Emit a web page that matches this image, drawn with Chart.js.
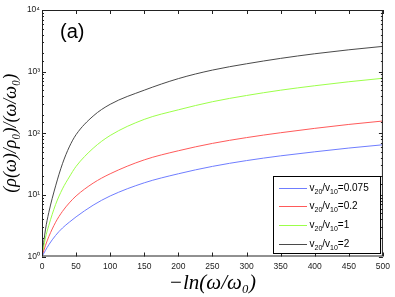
<!DOCTYPE html>
<html>
<head>
<meta charset="utf-8">
<script src="https://cdn.jsdelivr.net/npm/chart.js@4"></script>
<style>
body { margin: 0; background: #fff; }
#wrap { width: 395px; height: 297px; }
</style>
</head>
<body>
<div id="wrap"><canvas id="rhoChart"></canvas></div>
<script>
// -ln(w/w0) sample positions and curves
var xValues = [0, 5, 10, 20, 30, 40, 50, 75, 100, 150, 200, 250, 300, 350, 400, 450, 500];
var blueValues  = [1, 1.25, 1.55, 2.2, 2.9, 3.6, 4.4, 6.8, 9.6, 15.7, 22, 29, 36, 43, 50, 57.5, 65];
var redValues   = [1, 1.5, 2.1, 3.6, 5.4, 7.4, 9.6, 15.5, 22, 37, 52, 68.5, 85, 102, 120, 139, 158];
var greenValues = [1, 2.0, 3.2, 7.0, 12.5, 19.5, 29, 57, 92, 168, 240, 325, 410, 500, 590, 685, 780];
var blackValues = [1, 2.7, 5.2, 14, 32, 60, 95, 190, 295, 500, 770, 1060, 1340, 1640, 1950, 2260, 2570];
var ratioLabels = ["0.075", "0.2", "1", "2"];
var lineColors = ["#6f7dff", "#ff5a5a", "#9cff4a", "#4a4a4a"];
var yTicks = [1, 10, 100, 1000, 10000];

var sup = { 0: "\u2070", 1: "\u00b9", 2: "\u00b2", 3: "\u00b3", 4: "\u2074" };

function pts(ys) {
    return xValues.map(function (x, i) { return { x: x, y: ys[i] }; });
}

var series = [blueValues, redValues, greenValues, blackValues];
var datasets = series.map(function (ys, i) {
    return {
        label: ratioLabels[i],
        data: pts(ys),
        borderColor: lineColors[i],
        borderWidth: 1,
        pointRadius: 0,
        cubicInterpolationMode: "monotone",
        fill: false
    };
});

function isPow10(v) {
    var l = Math.log10(v);
    return Math.abs(l - Math.round(l)) < 1e-9;
}

// box, inward ticks, "(a)" and the legend
var decor = {
    id: "decor",
    afterDraw: function (chart) {
        var ctx = chart.ctx, a = chart.chartArea;
        var xs = chart.scales.x, ys = chart.scales.y;
        ctx.save();
        ctx.strokeStyle = "#222";
        ctx.lineWidth = 1;
        ctx.strokeRect(a.left + 0.5, a.top + 0.5, a.right - a.left - 1, a.bottom - a.top - 1);

        ctx.beginPath();
        xs.ticks.forEach(function (t) {
            var px = Math.round(xs.getPixelForValue(t.value)) + 0.5;
            ctx.moveTo(px, a.bottom); ctx.lineTo(px, a.bottom - 4);
            ctx.moveTo(px, a.top); ctx.lineTo(px, a.top + 4);
        });
        ys.ticks.forEach(function (t) {
            var py = Math.round(ys.getPixelForValue(t.value)) + 0.5;
            var len = isPow10(t.value) ? 4 : 2;
            ctx.moveTo(a.left, py); ctx.lineTo(a.left + len, py);
            ctx.moveTo(a.right, py); ctx.lineTo(a.right - len, py);
        });
        ctx.stroke();

        ctx.fillStyle = "#000";
        ctx.font = "20px 'Liberation Sans', Arial, sans-serif";
        ctx.textBaseline = "alphabetic";
        ctx.fillText("(a)", 60, 38);

        // legend
        var lx = 273, ly = 176, lw = 108, lh = 78;
        ctx.fillStyle = "#fff";
        ctx.fillRect(lx, ly, lw, lh);
        ctx.strokeStyle = "#000";
        ctx.strokeRect(lx + 0.5, ly + 0.5, lw - 1, lh - 1);
        chart.data.datasets.forEach(function (ds, i) {
            var ry = 187.5 + i * 18.7;
            ctx.strokeStyle = ds.borderColor;
            ctx.beginPath();
            ctx.moveTo(279, Math.round(ry) + 0.5);
            ctx.lineTo(307, Math.round(ry) + 0.5);
            ctx.stroke();
            var tx = 309.5, base = ry + 3;
            var big = "10px 'Liberation Sans', Arial, sans-serif";
            var small = "7px 'Liberation Sans', Arial, sans-serif";
            ctx.fillStyle = "#000";
            var parts = [["v", big, 0], ["20", small, 3], ["/v", big, 0], ["10", small, 3], ["=" + ds.label, big, 0]];
            parts.forEach(function (p) {
                ctx.font = p[1];
                ctx.fillText(p[0], tx, base + p[2]);
                tx += ctx.measureText(p[0]).width;
            });
        });
        ctx.restore();
    }
};

new Chart("rhoChart", {
    type: "line",
    data: { datasets: datasets },
    options: {
        responsive: true,
        maintainAspectRatio: false,
        animation: false,
        layout: { padding: { top: 10, right: 11, left: 0, bottom: 0 } },
        plugins: { legend: { display: false }, tooltip: { enabled: false } },
        scales: {
            x: {
                type: "linear",
                min: 0,
                max: 500,
                grid: { display: false, drawTicks: false },
                border: { display: false },
                ticks: {
                    stepSize: 50,
                    padding: 5,
                    color: "#222",
                    font: { size: 8.5, family: "'Liberation Sans', Arial, sans-serif" }
                },
                title: {
                    display: true,
                    text: "\u2212ln(\u03c9/\u03c9\u2080)",
                    color: "#000",
                    padding: { top: 0, bottom: 1 },
                    font: { size: 21, family: "'Liberation Serif', serif", style: "italic" }
                },
                afterFit: function (s) { s.height = 40.5; }
            },
            y: {
                type: "logarithmic",
                min: 1,
                max: 10000,
                grid: { display: false, drawTicks: false },
                border: { display: false },
                ticks: {
                    autoSkip: false,
                    padding: 2,
                    color: "#222",
                    font: { size: 8.5, family: "'Liberation Sans', Arial, sans-serif" },
                    callback: function (v) {
                        if (yTicks.indexOf(v) < 0) return "";
                        return "10" + sup[Math.round(Math.log10(v))];
                    }
                },
                title: {
                    display: true,
                    text: "(\u03c1(\u03c9)/\u03c1\u2080)/(\u03c9/\u03c9\u2080)",
                    color: "#000",
                    padding: { top: 0, bottom: 3 },
                    font: { size: 18, family: "'Liberation Serif', serif", style: "italic" }
                },
                afterFit: function (s) { s.width = 42; }
            }
        }
    },
    plugins: [decor]
});
</script>
</body>
</html>
